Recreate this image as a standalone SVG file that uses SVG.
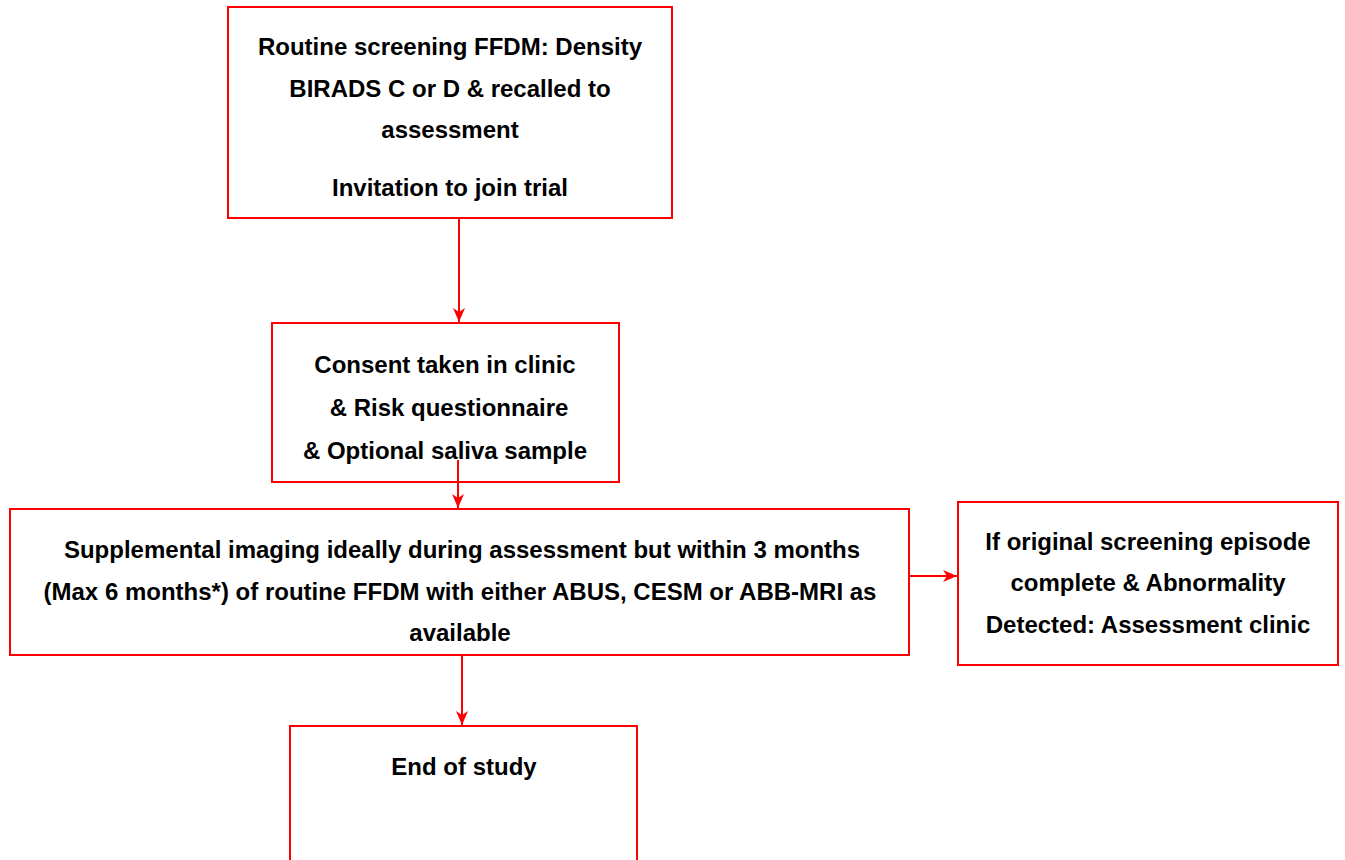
<svg xmlns="http://www.w3.org/2000/svg" width="1345" height="860" viewBox="0 0 1345 860">
<style>
.box{fill:#fff;stroke:#ff0000;stroke-width:2}
.t{font-family:"Liberation Sans",Arial,sans-serif;font-weight:bold;font-size:24px;fill:#000;text-anchor:middle}
.c{stroke:#ff0000;stroke-width:2;fill:none}
</style>
<defs>
<marker id="ah" viewBox="0 0 14 12" refX="14" refY="6" markerWidth="14" markerHeight="12" markerUnits="userSpaceOnUse" orient="auto">
<path d="M0,0 L14,6 L0,12 L4,6 Z" fill="#ff0000"/>
</marker>
</defs>
<rect width="1345" height="860" fill="#fff"/>
<g id="n1">
<rect class="box" x="228" y="7" width="444" height="211"/>
<text class="t" x="450" y="55">Routine screening FFDM: Density</text>
<text class="t" x="450" y="97">BIRADS C or D &amp; recalled to</text>
<text class="t" x="450" y="138">assessment</text>
<text class="t" x="450" y="196">Invitation to join trial</text>
</g>
<g id="n2">
<rect class="box" x="272" y="323" width="347" height="159"/>
<text class="t" x="445" y="373">Consent taken in clinic</text>
<text class="t" x="449" y="416">&amp; Risk questionnaire</text>
<text class="t" x="445" y="459">&amp; Optional saliva sample</text>
</g>
<g id="n3">
<rect class="box" x="10" y="509" width="899" height="146"/>
<text class="t" x="462" y="558">Supplemental imaging ideally during assessment but within 3 months</text>
<text class="t" x="460" y="600">(Max 6 months*) of routine FFDM with either ABUS, CESM or ABB-MRI as</text>
<text class="t" x="460" y="641">available</text>
</g>
<g id="n4">
<rect class="box" x="958" y="502" width="380" height="163"/>
<text class="t" x="1148" y="550">If original screening episode</text>
<text class="t" x="1148" y="591">complete &amp; Abnormality</text>
<text class="t" x="1148" y="633">Detected: Assessment clinic</text>
</g>
<g id="n5">
<rect class="box" x="290" y="726" width="347" height="150"/>
<text class="t" x="464" y="775">End of study</text>
</g>
<g id="connectors">
<line class="c" x1="459" y1="218" x2="459" y2="322" marker-end="url(#ah)"/>
<line class="c" x1="458" y1="460" x2="458" y2="508" marker-end="url(#ah)"/>
<line class="c" x1="909" y1="576" x2="957" y2="576" marker-end="url(#ah)"/>
<line class="c" x1="462" y1="655" x2="462" y2="725" marker-end="url(#ah)"/>
</g>
</svg>
